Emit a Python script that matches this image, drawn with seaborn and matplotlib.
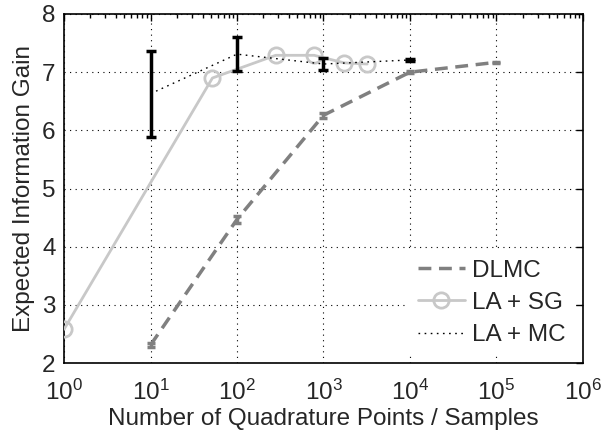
import numpy as np
import pandas as pd
import matplotlib
matplotlib.use("Agg")
import matplotlib.pyplot as plt
import seaborn as sns
from matplotlib.ticker import LogFormatterMathtext, NullFormatter, FixedLocator

# ---- data ----
dlmc_x = [10, 100, 1000, 10000, 100000]
dlmc_y = [2.31, 4.47, 6.26, 7.00, 7.17]
dlmc_err = [0.03, 0.06, 0.04, 0.02, 0.01]

sg_x = [1, 52, 280, 780, 1730, 3200]
sg_y = [2.58, 6.90, 7.29, 7.29, 7.16, 7.14]

mc_x = [10, 100, 1000, 10000]
mc_y = [6.63, 7.31, 7.14, 7.21]
mc_err = [0.74, 0.29, 0.10, 0.02]

labels = ["DLMC", "LA + SG", "LA + MC"]
x_ticks = [1, 10, 100, 1000, 10000, 100000, 1000000]
y_ticks = [2, 3, 4, 5, 6, 7, 8]

sns.set_style("white")
plt.rcParams['font.family'] = ['Liberation Sans', 'DejaVu Sans']
plt.rcParams['mathtext.fontset'] = 'custom'
plt.rcParams['mathtext.rm'] = 'Liberation Sans'
plt.rcParams['mathtext.it'] = 'Liberation Sans:italic'
plt.rcParams['mathtext.bf'] = 'Liberation Sans:bold'

FS = 17.5

fig = plt.figure(figsize=(6.01, 4.37), dpi=100)
ax = fig.add_axes([0.1065, 0.169, 0.8635, 0.799])

df_dlmc = pd.DataFrame({"x": dlmc_x, "y": dlmc_y})
df_sg = pd.DataFrame({"x": sg_x, "y": sg_y})
df_mc = pd.DataFrame({"x": mc_x, "y": mc_y})

dl_col = "#808080"
sg_col = "#c8c8c8"

ax.errorbar(dlmc_x, dlmc_y, yerr=dlmc_err, fmt="none", ecolor=dl_col,
            elinewidth=2.5, capsize=3, capthick=2.5, zorder=3)
sns.lineplot(data=df_dlmc, x="x", y="y", ax=ax, color=dl_col, lw=2.5,
             linestyle=(0, (3.7, 2.2)), label=labels[0], zorder=3)
sns.lineplot(data=df_sg, x="x", y="y", ax=ax, color=sg_col, lw=2,
             marker="o", markersize=11, markerfacecolor="none",
             markeredgecolor=sg_col, markeredgewidth=2, label=labels[1], zorder=4)
sns.lineplot(data=df_mc, x="x", y="y", ax=ax, color="black", lw=1,
             linestyle=(0, (1.2, 3.2)), label=labels[2], zorder=5)
ax.errorbar(mc_x, mc_y, yerr=mc_err, fmt="none", ecolor="black",
            elinewidth=2.5, capsize=3.5, capthick=2.5, zorder=6)

ax.set_xscale("log")
ax.set_xlim(1, 1e6)
ax.set_ylim(2, 8)
ax.set_yticks(y_ticks)
ax.xaxis.set_major_locator(FixedLocator(x_ticks))
ax.xaxis.set_major_formatter(LogFormatterMathtext())
minor = [m * d for d in x_ticks[:-1] for m in range(2, 10)]
ax.xaxis.set_minor_locator(FixedLocator(minor))
ax.xaxis.set_minor_formatter(NullFormatter())

ax.grid(True, which="major", linestyle=(0, (1, 4)), color="black", lw=0.8)
ax.tick_params(which="both", direction="in", top=True, right=True, labelsize=FS,
               color="black", width=1)
ax.tick_params(which="major", length=5)
ax.tick_params(which="minor", length=3)
ax.tick_params(axis="x", which="major", pad=12)
ax.tick_params(axis="y", which="major", pad=6)
for s in ax.spines.values():
    s.set_color("black")
    s.set_linewidth(1.2)

ax.set_xlabel("Number of Quadrature Points / Samples", fontsize=FS, labelpad=2)
ax.set_ylabel("Expected Information Gain", fontsize=FS, labelpad=5)

leg = ax.legend(loc="lower right", fontsize=FS, frameon=True, framealpha=1,
                facecolor="white", edgecolor="none", handlelength=1.95,
                handletextpad=0.3, labelspacing=0.42, borderaxespad=0.3,
                borderpad=0.4, fancybox=False)

fig.savefig("out.png", dpi=100)
